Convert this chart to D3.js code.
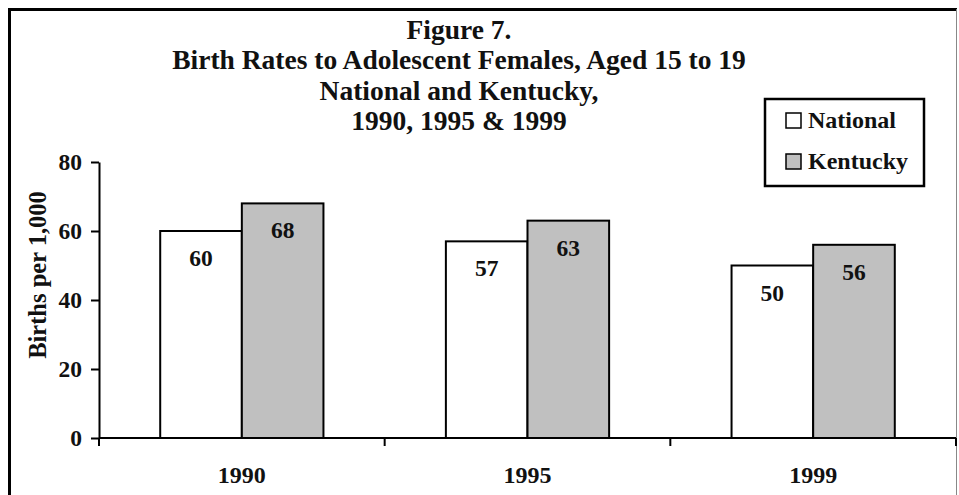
<!DOCTYPE html>
<html>
<head>
<meta charset="utf-8">
<script src="https://cdn.jsdelivr.net/npm/d3@7"></script>
<style>
  html, body { margin: 0; padding: 0; background: #fff; }
  svg { display: block; }
  text { font-family: "Liberation Serif", "Times New Roman", serif; font-weight: bold; fill: #111; }
</style>
</head>
<body>
<script>
// Chart data
const years = ["1990", "1995", "1999"];
const seriesNames = ["National", "Kentucky"];
const nationalRates = [60, 57, 50];
const kentuckyRates = [68, 63, 56];
const yTicks = [0, 20, 40, 60, 80];
const titleLines = [
  "Figure 7.",
  "Birth Rates to Adolescent Females, Aged 15 to 19",
  "National and Kentucky,",
  "1990, 1995 & 1999"
];
const yAxisTitle = "Births per 1,000";
const seriesFills = ["#ffffff", "#c0c0c0"];

const W = 959, H = 495;
const svg = d3.select("body").append("svg").attr("width", W).attr("height", H);
svg.append("rect").attr("width", W).attr("height", H).attr("fill", "#fff");

// Outer frame
svg.append("line").attr("x1", 9.5).attr("x2", 9.5).attr("y1", 8).attr("y2", H)
  .attr("stroke", "#000").attr("stroke-width", 3);
svg.append("line").attr("x1", 8).attr("x2", 957).attr("y1", 9.5).attr("y2", 9.5)
  .attr("stroke", "#000").attr("stroke-width", 3);
svg.append("line").attr("x1", 956.5).attr("x2", 956.5).attr("y1", 9).attr("y2", H)
  .attr("stroke", "#888").attr("stroke-width", 1);

// Title
const titleBaselines = [39, 69, 100, 130];
svg.append("g").selectAll("text").data(titleLines).join("text")
  .attr("x", 459).attr("y", (d, i) => titleBaselines[i])
  .attr("text-anchor", "middle").attr("font-size", 27.5)
  .text(d => d);

// Scales
const x0 = d3.scaleBand().domain(years).range([99, 956]).paddingInner(0).paddingOuter(0);
const barW = x0.bandwidth() / 3.5;
const x1 = d3.scaleBand().domain(seriesNames)
  .range([x0.bandwidth() / 2 - barW, x0.bandwidth() / 2 + barW]).padding(0);
const y = d3.scaleLinear().domain([0, 80]).range([438, 162]);

const rows = years.map((yr, i) => ({
  year: yr,
  values: [
    { name: seriesNames[0], value: nationalRates[i], fill: seriesFills[0] },
    { name: seriesNames[1], value: kentuckyRates[i], fill: seriesFills[1] }
  ]
}));

// Bars
const groups = svg.append("g").selectAll("g").data(rows).join("g")
  .attr("transform", d => `translate(${x0(d.year)},0)`);
groups.selectAll("rect").data(d => d.values).join("rect")
  .attr("x", d => x1(d.name))
  .attr("y", d => y(d.value))
  .attr("width", x1.bandwidth())
  .attr("height", d => y(0) - y(d.value))
  .attr("fill", d => d.fill)
  .attr("stroke", "#000").attr("stroke-width", 2);

// Value labels inside the bars
groups.selectAll("text").data(d => d.values).join("text")
  .attr("x", d => x1(d.name) + x1.bandwidth() / 2)
  .attr("y", d => y(d.value) + 35)
  .attr("text-anchor", "middle").attr("font-size", 23.5)
  .text(d => d.value);

// Y axis
const yAxis = svg.append("g").attr("transform", "translate(99,0)")
  .call(d3.axisLeft(y).tickValues(yTicks).tickSize(8).tickPadding(9).tickSizeOuter(0));
yAxis.select(".domain").attr("stroke", "#000").attr("stroke-width", 2);
yAxis.selectAll(".tick line").attr("stroke", "#000").attr("stroke-width", 2);
yAxis.selectAll(".tick text").attr("font-size", 23.5)
  .attr("font-family", "Liberation Serif, Times New Roman, serif")
  .attr("font-weight", "bold").attr("fill", "#111");

// X axis: baseline with ticks at category boundaries
const xAxis = svg.append("g");
xAxis.append("line").attr("x1", 99).attr("x2", 956).attr("y1", y(0)).attr("y2", y(0))
  .attr("stroke", "#000").attr("stroke-width", 2);
const boundaries = years.map(d => x0(d)).concat([x0(years[years.length - 1]) + x0.bandwidth()]);
xAxis.selectAll("line.bt").data(boundaries).join("line").attr("class", "bt")
  .attr("x1", d => d).attr("x2", d => d)
  .attr("y1", y(0)).attr("y2", y(0) + 8)
  .attr("stroke", "#000").attr("stroke-width", 2);
xAxis.selectAll("text").data(years).join("text")
  .attr("x", d => x0(d) + x0.bandwidth() / 2).attr("y", 483)
  .attr("text-anchor", "middle").attr("font-size", 24)
  .text(d => d);

// Y axis title
svg.append("text")
  .attr("transform", "translate(37,275) rotate(-90)")
  .attr("text-anchor", "middle").attr("dominant-baseline", "central")
  .attr("font-size", 24.5)
  .text(yAxisTitle);

// Legend
const legend = svg.append("g");
legend.append("rect").attr("x", 765).attr("y", 99).attr("width", 159).attr("height", 87)
  .attr("fill", "#fff").attr("stroke", "#000").attr("stroke-width", 2.5);
const legendRows = [113, 154];
const li = legend.selectAll("g").data(seriesNames).join("g")
  .attr("transform", (d, i) => `translate(786,${legendRows[i]})`);
li.append("rect").attr("width", 15).attr("height", 15)
  .attr("fill", (d, i) => seriesFills[i]).attr("stroke", "#000").attr("stroke-width", 1.5);
li.append("text").attr("x", 22).attr("y", 15).attr("font-size", 24).text(d => d);
</script>
</body>
</html>
